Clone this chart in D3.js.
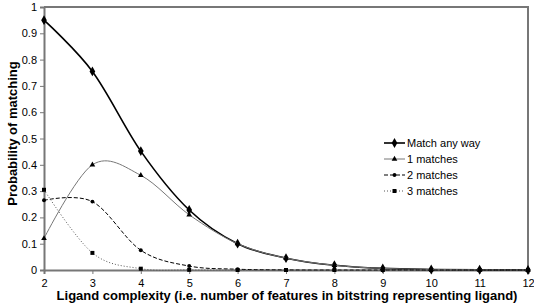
<!DOCTYPE html>
<html>
<head>
<meta charset="utf-8">
<script src="https://cdn.jsdelivr.net/npm/d3@7"></script>
<style>
  body { margin: 0; background: #fff; }
  text { font-family: "Liberation Sans", Arial, sans-serif; }
</style>
</head>
<body>
<div id="chart"></div>
<script>
// data
var complexity = [2, 3, 4, 5, 6, 7, 8, 9, 10, 11, 12];
var matchAny = [0.95, 0.755, 0.452, 0.228, 0.10, 0.045, 0.018, 0.006, 0.002, 0.001, 0.0];
var match1 = [0.12, 0.40, 0.36, 0.21, 0.10, 0.045, 0.018, 0.006, 0.002, 0.001, 0.0];
var match2 = [0.265, 0.26, 0.075, 0.015, 0.003, 0.0005, 0, 0, 0, 0, 0];
var match3 = [0.305, 0.065, 0.005, 0.0005, 0, 0, 0, 0, 0, 0, 0];
var yTicks = [0, 0.1, 0.2, 0.3, 0.4, 0.5, 0.6, 0.7, 0.8, 0.9, 1];
var seriesNames = ["Match any way", "1 matches", "2 matches", "3 matches"];

var series = [
  {name: seriesNames[0], values: matchAny, color: "#000", width: 1.6, dash: null, symbol: d3.symbolDiamond, size: 28},
  {name: seriesNames[1], values: match1, color: "#777", width: 1, dash: null, symbol: d3.symbolTriangle, size: 14},
  {name: seriesNames[2], values: match2, color: "#000", width: 1, dash: "4,2", symbol: d3.symbolCircle, size: 12},
  {name: seriesNames[3], values: match3, color: "#555", width: 1, dash: "1,2", symbol: d3.symbolSquare, size: 16}
];

var margin = {top: 7, right: 6, bottom: 35, left: 44},
    W = 534, H = 305,
    width = W - margin.left - margin.right,
    height = H - margin.top - margin.bottom;

var svg = d3.select("#chart").append("svg")
    .attr("width", W).attr("height", H)
  .append("g")
    .attr("transform", "translate(" + margin.left + "," + margin.top + ")");

var x = d3.scaleLinear().domain([2, 12]).range([0, width]);
var y = d3.scaleLinear().domain([0, 1]).range([height, 0]);

// plot frame (top and right)
svg.append("path")
    .attr("d", "M0,0H" + width + "V" + height)
    .attr("fill", "none").attr("stroke", "#777").attr("stroke-width", 2);

// axes
var xAxis = svg.append("g")
    .attr("transform", "translate(0," + height + ")")
    .call(d3.axisBottom(x).tickValues(complexity).tickSize(4).tickFormat(d3.format("d")));
var yAxis = svg.append("g")
    .call(d3.axisLeft(y).tickValues(yTicks).tickSize(4).tickFormat(function(d) { return d; }));
[xAxis, yAxis].forEach(function(a) {
  a.select(".domain").attr("stroke", "#777").attr("stroke-width", 2);
  a.selectAll(".tick line").attr("stroke", "#777");
  a.selectAll(".tick text").attr("font-size", 11).attr("fill", "#000")
    .style("font-family", "Liberation Sans, Arial, sans-serif");
});
xAxis.selectAll(".tick text").attr("dy", "0.95em");

var line = d3.line()
    .x(function(d, i) { return x(complexity[i]); })
    .y(function(d) { return y(d); })
    .curve(d3.curveCardinal.tension(0));

series.forEach(function(s) {
  svg.append("path")
      .attr("d", line(s.values))
      .attr("fill", "none")
      .attr("stroke", s.color)
      .attr("stroke-width", s.width)
      .attr("stroke-dasharray", s.dash);
  svg.selectAll(null)
      .data(s.values)
      .enter().append("path")
      .attr("transform", function(d, i) { return "translate(" + x(complexity[i]) + "," + y(d) + ")"; })
      .attr("d", d3.symbol().type(s.symbol).size(s.size))
      .attr("fill", "#000");
});

// legend
var legend = svg.append("g").attr("transform", "translate(340,136)");
series.forEach(function(s, i) {
  var g = legend.append("g").attr("transform", "translate(0," + (i * 16) + ")");
  g.append("line").attr("x1", 0).attr("x2", 21).attr("y1", 0).attr("y2", 0)
    .attr("stroke", s.color).attr("stroke-width", s.width).attr("stroke-dasharray", s.dash);
  g.append("path").attr("transform", "translate(10.5,0)")
    .attr("d", d3.symbol().type(s.symbol).size(s.size)).attr("fill", "#000");
  g.append("text").attr("x", 23).attr("y", 0).attr("dy", "0.35em")
    .attr("font-size", 11).text(s.name);
});

// axis titles
svg.append("text")
    .attr("x", width / 2 + 1).attr("y", height + 30)
    .attr("text-anchor", "middle")
    .attr("font-size", 13).attr("font-weight", "bold")
    .text("Ligand complexity (i.e. number of features in bitstring representing ligand)");
svg.append("text")
    .attr("transform", "rotate(-90)")
    .attr("x", -height / 2 + 5).attr("y", -27)
    .attr("text-anchor", "middle")
    .attr("font-size", 13).attr("font-weight", "bold")
    .text("Probability of matching");
</script>
</body>
</html>
